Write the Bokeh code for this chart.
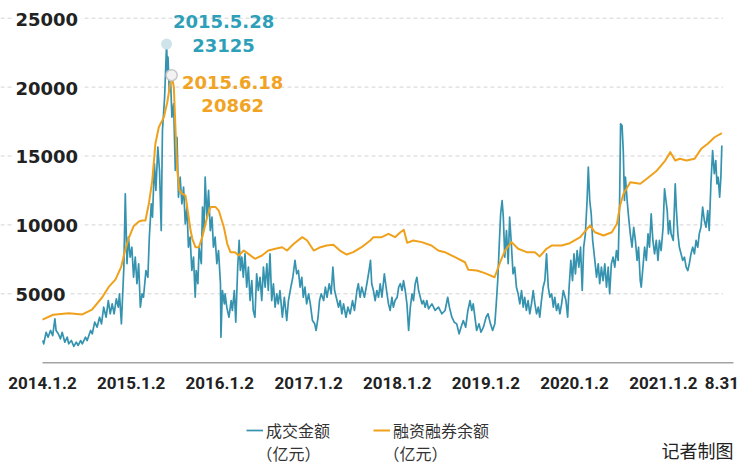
import pandas as pd
from bokeh.plotting import figure
from bokeh.models import Range1d, Legend, LegendItem, Label, ColumnDataSource
from bokeh.core.properties import value
from bokeh.embed import file_html
from bokeh.resources import INLINE

# ---------------- data (亿元) ----------------
turnover_dates = [
    "2014-01-03", "2014-01-07", "2014-01-17", "2014-01-25", "2014-02-04", "2014-02-13", "2014-02-22", "2014-02-27",
    "2014-03-08", "2014-03-17", "2014-03-24", "2014-04-04", "2014-04-14", "2014-04-20", "2014-05-01", "2014-05-11",
    "2014-05-21", "2014-05-29", "2014-06-08", "2014-06-15", "2014-06-28", "2014-07-05", "2014-07-19", "2014-07-26",
    "2014-08-05", "2014-08-15", "2014-08-25", "2014-09-02", "2014-09-11", "2014-09-21", "2014-09-30", "2014-10-08",
    "2014-10-16", "2014-10-24", "2014-11-02", "2014-11-10", "2014-11-15", "2014-11-23", "2014-12-03", "2014-12-09",
    "2014-12-16", "2014-12-22", "2014-12-29",
    "2015-01-05", "2015-01-12", "2015-01-19", "2015-01-26", "2015-02-02", "2015-02-09", "2015-02-16", "2015-02-22",
    "2015-03-04", "2015-03-12", "2015-03-18", "2015-03-26", "2015-03-31", "2015-04-08", "2015-04-14", "2015-04-22",
    "2015-04-29", "2015-05-06", "2015-05-11", "2015-05-20", "2015-05-28", "2015-06-01", "2015-06-03", "2015-06-08",
    "2015-06-12", "2015-06-19", "2015-06-26", "2015-07-03", "2015-07-10", "2015-07-16", "2015-07-23", "2015-07-30",
    "2015-08-06", "2015-08-13", "2015-08-20", "2015-08-26", "2015-09-02", "2015-09-09", "2015-09-16", "2015-09-23",
    "2015-09-27", "2015-10-04", "2015-10-09", "2015-10-18", "2015-10-23", "2015-10-29", "2015-11-03", "2015-11-10",
    "2015-11-17", "2015-11-24", "2015-12-01", "2015-12-07", "2015-12-14", "2015-12-21", "2015-12-28",
    "2016-01-05", "2016-01-07", "2016-01-13", "2016-01-21", "2016-01-24", "2016-01-31", "2016-02-09", "2016-02-18",
    "2016-02-23", "2016-03-02", "2016-03-08", "2016-03-16", "2016-03-22", "2016-03-27", "2016-04-02", "2016-04-08",
    "2016-04-15", "2016-04-22", "2016-04-29", "2016-05-06", "2016-05-13", "2016-05-19", "2016-05-26", "2016-06-02",
    "2016-06-09", "2016-06-16", "2016-06-23", "2016-06-30", "2016-07-07", "2016-07-14", "2016-07-20", "2016-07-27",
    "2016-08-03", "2016-08-10", "2016-08-17", "2016-08-24", "2016-08-30", "2016-09-06", "2016-09-16", "2016-09-24",
    "2016-10-04", "2016-10-11", "2016-10-21", "2016-10-29", "2016-11-07", "2016-11-14", "2016-11-21", "2016-11-28",
    "2016-12-05", "2016-12-11", "2016-12-18", "2016-12-25",
    "2017-01-02", "2017-01-09", "2017-01-18", "2017-01-27", "2017-02-02", "2017-02-10", "2017-02-16", "2017-02-23",
    "2017-03-05", "2017-03-12", "2017-03-19", "2017-03-28", "2017-04-05", "2017-04-12", "2017-04-19", "2017-04-29",
    "2017-05-05", "2017-05-12", "2017-05-19", "2017-05-26", "2017-06-05", "2017-06-13", "2017-06-22", "2017-07-02",
    "2017-07-10", "2017-07-20", "2017-07-26", "2017-08-02", "2017-08-09", "2017-08-20", "2017-08-30", "2017-09-08",
    "2017-09-14", "2017-09-19", "2017-09-26", "2017-10-03", "2017-10-10", "2017-10-17", "2017-10-24", "2017-10-31",
    "2017-11-10", "2017-11-19", "2017-11-27", "2017-12-04", "2017-12-11", "2017-12-17", "2017-12-24",
    "2018-01-02", "2018-01-08", "2018-01-15", "2018-01-22", "2018-01-28", "2018-02-04", "2018-02-11", "2018-02-18",
    "2018-02-25", "2018-03-04", "2018-03-10", "2018-03-17", "2018-03-24", "2018-03-31", "2018-04-07", "2018-04-14",
    "2018-04-20", "2018-04-27", "2018-05-04", "2018-05-11", "2018-05-25", "2018-06-07", "2018-06-21", "2018-07-05",
    "2018-07-18", "2018-07-29", "2018-08-05", "2018-08-15", "2018-08-25", "2018-09-04", "2018-09-14", "2018-09-22",
    "2018-10-01", "2018-10-11", "2018-10-20", "2018-10-29", "2018-11-05", "2018-11-11", "2018-11-18", "2018-11-25",
    "2018-12-05", "2018-12-13", "2018-12-23",
    "2019-01-03", "2019-01-11", "2019-01-21", "2019-01-30", "2019-02-08", "2019-02-13", "2019-02-20", "2019-02-27",
    "2019-03-04", "2019-03-10", "2019-03-15", "2019-03-21", "2019-03-28", "2019-04-04", "2019-04-10", "2019-04-17",
    "2019-04-24", "2019-05-01", "2019-05-08", "2019-05-15", "2019-05-22", "2019-05-29", "2019-06-05", "2019-06-11",
    "2019-06-18", "2019-06-25", "2019-07-02", "2019-07-09", "2019-07-16", "2019-07-23", "2019-07-30", "2019-08-06",
    "2019-08-12", "2019-08-19", "2019-08-26", "2019-09-02", "2019-09-09", "2019-09-16", "2019-09-23", "2019-09-30",
    "2019-10-07", "2019-10-13", "2019-10-20", "2019-10-27", "2019-11-03", "2019-11-10", "2019-11-17", "2019-11-28",
    "2019-12-05", "2019-12-11", "2019-12-18", "2019-12-25", "2019-12-31",
    "2020-01-06", "2020-01-13", "2020-01-20", "2020-01-27", "2020-02-03", "2020-02-09", "2020-02-16", "2020-02-23",
    "2020-02-28", "2020-03-05", "2020-03-11", "2020-03-17", "2020-03-26", "2020-04-02", "2020-04-09", "2020-04-15",
    "2020-04-22", "2020-04-29", "2020-05-06", "2020-05-13", "2020-05-20", "2020-05-26", "2020-06-02", "2020-06-09",
    "2020-06-16", "2020-06-23", "2020-06-30", "2020-07-06", "2020-07-10", "2020-07-16", "2020-07-21", "2020-07-26",
    "2020-07-30", "2020-08-06", "2020-08-12", "2020-08-19", "2020-08-26", "2020-09-02", "2020-09-09", "2020-09-16",
    "2020-09-22", "2020-09-29", "2020-10-03", "2020-10-10", "2020-10-17", "2020-10-24", "2020-10-31", "2020-11-06",
    "2020-11-13", "2020-11-20", "2020-11-27", "2020-12-04", "2020-12-11", "2020-12-17", "2020-12-24",
    "2021-01-01", "2021-01-07", "2021-01-13", "2021-01-18", "2021-01-23", "2021-01-29", "2021-02-03", "2021-02-12",
    "2021-02-20", "2021-02-25", "2021-03-03", "2021-03-09", "2021-03-16", "2021-03-23", "2021-03-30", "2021-04-06",
    "2021-04-13", "2021-04-19", "2021-04-26", "2021-05-03", "2021-05-10", "2021-05-17", "2021-05-24", "2021-05-30",
    "2021-06-06", "2021-06-13", "2021-06-20", "2021-06-27", "2021-07-04", "2021-07-10", "2021-07-17", "2021-07-24",
    "2021-07-31", "2021-08-06", "2021-08-11", "2021-08-16", "2021-08-22", "2021-08-27", "2021-08-31",
]
turnover_values = [
    1610, 1370, 2210, 1850, 2340, 1970, 3190, 2340,
    2100, 1730, 2210, 1490, 1850, 1370, 1610, 1180,
    1490, 1250, 1610, 1370, 1850, 1610, 2340, 2100,
    2940, 2580, 3300, 2820, 4030, 3300, 4510, 3550,
    4270, 3550, 4640, 4030, 5000, 2820, 6900, 12260,
    7180, 9110, 7660,
    8380, 6200, 7660, 5730, 7180, 4030, 5000, 4750,
    6690, 6200, 9110, 11530, 10560, 14430, 12500, 15640,
    13950, 9590, 16850, 19270, 23125, 20970, 22170, 19750,
    21200, 17820, 18790, 13950, 16360, 12010, 13460, 11530,
    12740, 10080, 11290, 8380, 9110, 6690, 7660, 4750,
    6690, 5730, 8380, 7180, 11290, 9590, 13460, 10560,
    12500, 9590, 10560, 8380, 9110, 7180, 8140,
    5730, 1850, 5240, 4270, 5000, 4030, 3300, 4510,
    3790, 5240, 2940, 6930, 8870, 6690, 7660, 6200,
    7900, 5480, 6930, 4510, 5960, 3790, 3300, 6450,
    5240, 6200, 4510, 6930, 5480, 7180, 5240, 7900,
    4510, 5730, 4030, 5000, 4270, 5240, 3300, 4750,
    3060, 4510, 5480, 6200, 7420, 6450, 6690, 5480,
    6200, 4750, 5480, 4270,
    5000, 4270, 3060, 2820, 2340, 3300, 4510, 5000,
    4510, 5480, 4750, 5730, 5000, 6930, 5240, 4510,
    4030, 4510, 3550, 4270, 3300, 4030, 3550, 4510,
    3790, 5240, 5730, 4750, 5480, 4750, 5730, 6690,
    7420, 5730, 5240, 4510, 5240, 4750, 5730, 4750,
    6450, 5240, 4270, 3790, 4750, 4030, 4510,
    4750, 5480, 5730, 5240, 5960, 5240, 4270, 2340,
    4030, 5000, 4510, 5730, 6200, 5240, 4750, 4270,
    4510, 4030, 4510, 3910, 4270, 3790, 4030, 3550,
    3790, 4750, 4030, 3300, 2940, 2820, 2100, 2580,
    3060, 2580, 3790, 4510, 3790, 4270, 3300, 2340,
    2820, 2210, 2580,
    3300, 3550, 2820, 2340, 2820, 4030, 5960, 8870,
    10800, 11770, 10560, 7660, 9590, 7180, 10560, 8630,
    6450, 6930, 5480, 5000, 4270, 5240, 4030, 4750,
    3790, 4510, 3550, 4270, 5240, 4270, 3550, 4030,
    3300, 4510, 5480, 5960, 7900, 5480, 4750, 5000,
    4030, 4750, 3790, 4270, 3550, 4270, 5240, 4510,
    3300, 5480, 7420, 5960, 7900,
    6450, 8140, 6930, 8380, 5240, 8380, 9350, 11770,
    14190, 11770, 10800, 8870, 7420, 6200, 7180, 5730,
    6930, 5960, 7180, 5480, 6930, 5000, 7180, 7660,
    6930, 8140, 7420, 11770, 17340, 17210, 15400, 11770,
    13460, 11770, 10560, 9350, 8380, 9830, 8870, 7420,
    8380, 5960, 5480, 6930, 8380, 7420, 9350, 8380,
    10800, 8870, 7900, 8870, 7420, 8870, 8140,
    9830, 12620, 11770, 11040, 9350, 10320, 9350, 8870,
    12980, 11040, 9350, 8380, 7900, 7420, 7660, 6930,
    6690, 7180, 7900, 8380, 7900, 8870, 8380, 9350,
    9830, 11290, 10320, 9830, 11040, 9590, 12980, 15400,
    13710, 14670, 12980, 13460, 12010, 13460, 15760,
]

margin_dates = [
    "2014-01-02", "2014-02-15", "2014-04-20", "2014-06-15", "2014-07-25", "2014-09-05", "2014-10-01", "2014-10-30",
    "2014-11-22", "2014-12-06", "2014-12-22", "2015-01-12", "2015-02-03", "2015-02-17", "2015-03-02", "2015-03-16",
    "2015-03-30", "2015-04-12", "2015-04-26", "2015-05-17", "2015-05-31", "2015-06-12", "2015-06-18", "2015-06-27",
    "2015-07-04", "2015-07-11", "2015-07-20", "2015-07-31", "2015-08-14", "2015-08-21", "2015-09-04", "2015-09-11",
    "2015-09-24", "2015-10-08", "2015-10-22", "2015-11-11", "2015-11-25", "2015-12-16", "2015-12-29", "2016-01-19",
    "2016-02-02", "2016-02-15", "2016-03-05", "2016-03-20", "2016-04-10", "2016-04-29", "2016-05-26", "2016-06-24",
    "2016-07-20", "2016-08-18", "2016-09-15", "2016-10-05", "2016-11-02", "2016-12-07", "2016-12-27", "2017-01-23",
    "2017-02-20", "2017-03-17", "2017-04-14", "2017-05-11", "2017-06-08", "2017-07-05", "2017-08-08", "2017-09-13",
    "2017-09-26", "2017-10-30", "2017-11-27", "2017-12-24", "2018-01-15", "2018-01-29", "2018-02-12", "2018-03-09",
    "2018-04-13", "2018-05-23", "2018-06-20", "2018-07-17", "2018-08-28", "2018-10-08", "2018-10-22", "2018-11-26",
    "2018-12-29", "2019-02-07", "2019-03-02", "2019-03-22", "2019-04-18", "2019-05-15", "2019-06-19", "2019-07-23",
    "2019-08-12", "2019-09-09", "2019-09-30", "2019-11-10", "2019-12-14", "2020-01-26", "2020-02-23", "2020-03-07",
    "2020-03-26", "2020-05-01", "2020-06-04", "2020-06-25", "2020-07-08", "2020-07-22", "2020-08-19", "2020-09-29",
    "2020-10-26", "2020-12-07", "2021-01-10", "2021-01-31", "2021-02-20", "2021-03-11", "2021-04-07", "2021-05-11",
    "2021-06-07", "2021-07-04", "2021-08-01", "2021-08-31",
]
margin_values = [
    3130, 3480, 3580, 3500, 3850, 4750, 5480, 6050,
    6950, 8000, 8990, 9900, 10250, 10320, 10320, 11530,
    13220, 15890, 17090, 17820, 18900, 20240, 20862, 19990,
    16850, 13950, 12500, 12260, 12130, 11290, 9590, 8990,
    8380, 8380, 9110, 10560, 11290, 11290, 11040, 9830,
    8630, 8020, 8020, 7780, 8140, 7900, 7540, 7780,
    8140, 8270, 8380, 8140, 8630, 9110, 8870, 8140,
    8380, 8500, 8560, 8140, 7850, 8020, 8380, 8870,
    9110, 9110, 9350, 9110, 9470, 9640, 8700, 8870,
    8750, 8500, 8140, 8020, 7660, 7290, 6740, 6690,
    6500, 6200, 7290, 8140, 8750, 8270, 8020, 8020,
    7710, 8270, 8500, 8500, 8670, 9110, 9720, 9960,
    9470, 9230, 9470, 10080, 11410, 12260, 13100, 12980,
    13350, 13950, 14670, 15280, 14670, 14800, 14670, 14800,
    15520, 15890, 16360, 16660,
]

peak_turnover_date, peak_turnover_value = "2015-05-28", 23125
peak_margin_date, peak_margin_value = "2015-06-18", 20862

ytick_values = [5000, 10000, 15000, 20000, 25000]
xtick_dates = ["2014-01-02", "2015-01-02", "2016-01-02", "2017-01-02", "2018-01-02",
               "2019-01-02", "2020-01-02", "2021-01-02", "2021-08-31"]
xtick_labels = ["2014.1.2", "2015.1.2", "2016.1.2", "2017.1.2", "2018.1.2",
                "2019.1.2", "2020.1.2", "2021.1.2", "8.31"]

series_names = ["成交金额", "融资融券余额"]
unit_text = "（亿元）"
credit_text = "记者制图"

# ---------------- styling ----------------
TEAL = "#3593af"
ORANGE = "#f0a11c"
TEAL_TXT = "#2e9fb8"
ORANGE_TXT = "#f1a324"


def ms(d):
    return pd.Timestamp(d).value / 1e6


W, H = 741, 463
x_start, x_end = ms("2013-07-13"), ms("2021-11-20")

p = figure(width=W, height=H, x_axis_type="datetime", x_axis_location=None, y_axis_location=None,
           x_range=Range1d(x_start, x_end), y_range=Range1d(-7315, 26284),
           output_backend="svg", toolbar_location=None,
           min_border_left=0, min_border_right=0, min_border_top=0, min_border_bottom=0)
p.xgrid.visible = False
p.ygrid.visible = False
p.outline_line_color = None
p.background_fill_color = "white"
p.border_fill_color = "white"

# gridlines
n = len(ytick_values)
p.segment(x0=[x_start] * n, x1=[ms("2021-09-05")] * n, y0=ytick_values, y1=ytick_values,
          line_color="#d4d4d4", line_width=1, line_dash="4 3")
# baseline (x axis line)
p.segment(x0=[ms(xtick_dates[0])], x1=[ms("2021-10-18")], y0=[0], y1=[0],
          line_color="#a3a3a3", line_width=1.5)

src_t = ColumnDataSource(dict(x=pd.to_datetime(turnover_dates), y=turnover_values))
src_m = ColumnDataSource(dict(x=pd.to_datetime(margin_dates), y=margin_values))
r_t = p.line("x", "y", source=src_t, line_color=TEAL, line_width=1.7, line_join="round")
r_m = p.line("x", "y", source=src_m, line_color=ORANGE, line_width=2, line_join="round")

p.scatter(x=[pd.Timestamp(peak_turnover_date)], y=[peak_turnover_value], size=11,
          fill_color="#cfe3ea", line_color=None)
p.scatter(x=[pd.Timestamp(peak_margin_date)], y=[peak_margin_value], size=11,
          fill_color="#f2f2f2", line_color="#c8c8c8", line_width=1.5)

# x tick labels
for d, lab in zip(xtick_dates, xtick_labels):
    p.add_layout(Label(x=ms(d), y=0, y_offset=-20, text=lab, text_align="center",
                       text_baseline="middle", text_font="Roboto", text_font_style="bold",
                       text_font_size="17px", text_color="#222222"))

# y tick labels (white backed, over gridlines)
for v in ytick_values:
    p.add_layout(Label(x=x_start, y=v, x_offset=12, y_offset=-1, text=str(v), text_align="left",
                       text_baseline="middle", text_font="DejaVu Sans", text_font_style="bold",
                       text_font_size="18px", text_color="#222222",
                       background_fill_color="white", padding=3))


def fmt_date(d):
    t = pd.Timestamp(d)
    return f"{t.year}.{t.month}.{t.day}"


ann_font = dict(text_font="DejaVu Sans", text_font_style="bold", text_font_size="18px",
                text_align="center", text_baseline="middle")
pt = ms(peak_turnover_date)
pm = ms(peak_margin_date)
p.add_layout(Label(x=pt, y=peak_turnover_value, x_offset=57, y_offset=23,
                   text=fmt_date(peak_turnover_date), text_color=TEAL_TXT, **ann_font))
p.add_layout(Label(x=pt, y=peak_turnover_value, x_offset=57, y_offset=-1,
                   text=str(peak_turnover_value), text_color=TEAL_TXT, **ann_font))
p.add_layout(Label(x=pm, y=peak_margin_value, x_offset=61, y_offset=-7,
                   text=fmt_date(peak_margin_date), text_color=ORANGE_TXT, **ann_font))
p.add_layout(Label(x=pm, y=peak_margin_value, x_offset=61, y_offset=-30,
                   text=str(peak_margin_value), text_color=ORANGE_TXT, **ann_font))

# legend
legend = Legend(items=[LegendItem(label=value(series_names[0]), renderers=[r_t]),
                       LegendItem(label=value(series_names[1]), renderers=[r_m])],
                orientation="horizontal", location=(246, 21),
                border_line_color=None, background_fill_alpha=0, padding=0, margin=0,
                spacing=43, label_standoff=3, glyph_width=17, glyph_height=20, label_height=20,
                label_text_font="Noto Sans CJK SC", label_text_font_size="16px",
                label_text_color="#333333", label_text_baseline="middle")
p.add_layout(legend)

for ux in (256, 383):
    p.add_layout(Label(x=ux, y=11, x_units="screen", y_units="screen", text=unit_text,
                       text_align="left", text_baseline="middle", text_font="Noto Sans CJK SC",
                       text_font_size="16px", text_color="#333333"))

p.add_layout(Label(x=733, y=14, x_units="screen", y_units="screen", text=credit_text,
                   text_align="right", text_baseline="middle", text_font="Noto Sans CJK SC",
                   text_font_size="18px", text_color="#222222"))

open("out.html", "w").write(file_html(p, INLINE))
